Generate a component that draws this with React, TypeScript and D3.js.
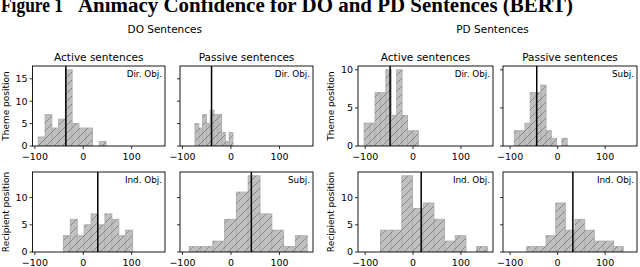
import React, { useEffect, useRef } from 'react';
import * as d3 from 'd3';

// bin counts (10 bins each)
const doActiveTheme = [2, 7, 4, 6, 17, 5, 4, 4, 0, 1];
const doPassiveTheme = [5, 4, 7, 5, 8, 7, 7, 3, 1, 3];
const doActiveRecipient = [3, 6, 3, 5, 7, 5, 7, 6, 3, 4];
const doPassiveRecipient = [1, 1, 2, 6, 11, 14, 7, 4, 1, 3];
const pdActiveTheme = [3, 3, 7, 7, 10, 4, 10, 4, 2, 2];
const pdPassiveTheme = [2, 2, 3, 7, 7, 8, 2, 1, 0, 1];
const pdActiveRecipient = [4, 4, 14, 8, 9, 6, 2, 3, 0, 1];
const pdPassiveRecipient = [1, 1, 3, 9, 4, 6, 4, 2, 2, 1];

// [first bin edge, last bin edge]
const binRanges = {
  doActiveTheme: [-93, 47],
  doPassiveTheme: [-74, 4],
  doActiveRecipient: [-41, 102],
  doPassiveRecipient: [-86, 157],
  pdActiveTheme: [-102, 11],
  pdPassiveTheme: [-91, 20],
  pdActiveRecipient: [-68, 155],
  pdPassiveRecipient: [-65, 138],
};

// position of the vertical line in each panel
const meanLines = [-36, -40, 30, 42, -48, -44, 17, 32];
const roleLabels = ['Dir. Obj.', 'Dir. Obj.', 'Ind. Obj.', 'Subj.', 'Dir. Obj.', 'Subj.', 'Ind. Obj.', 'Ind. Obj.'];

const figTitle = ['Figure 1', 'Animacy Confidence for DO and PD Sentences (BERT)'];
const groupTitles = ['DO Sentences', 'PD Sentences'];
const colTitles = ['Active sentences', 'Passive sentences'];
const rowLabels = ['Theme position', 'Recipient position'];
const xTicks = [-100, 0, 100];
const yTicksByRow = [[[0, 5, 10, 15], [0, 5, 10]], [[0, 5, 10], [0, 5, 10]]]; // [group][row]
const yMaxByRow = [[17, 14], [10, 14]];
const xDomains = [[-105, 169], [-115, 167]];

const App = () => {
  const svgRef = useRef(null);

  useEffect(() => {
    const svg = d3.select(svgRef.current);
    svg.selectAll('*').remove();
    const font = 'DejaVu Sans, sans-serif';

    const cols = [[32.5, 165], [180, 313], [358, 493], [503, 637]];
    const rows = [[66, 146], [172, 252]];

    const defs = svg.append('defs');
    const h = 8;
    const pat = defs.append('pattern')
      .attr('id', 'hatch')
      .attr('patternUnits', 'userSpaceOnUse')
      .attr('width', h).attr('height', h);
    pat.append('path')
      .attr('d', `M0,${h} L${h},0 M${-h / 2},${h / 2} L${h / 2},${-h / 2} M${h / 2},${h * 1.5} L${h * 1.5},${h / 2}`)
      .attr('stroke', '#7a7a7a').attr('stroke-width', 0.8);

    // figure title, cut at the top like the source
    const serif = 'Liberation Serif, Times New Roman, serif';
    svg.append('text').attr('x', 1).attr('y', 12)
      .attr('font-family', serif).attr('font-weight', 'bold').attr('font-size', 20)
      .attr('textLength', 62).attr('lengthAdjust', 'spacingAndGlyphs')
      .text(figTitle[0]);
    svg.append('text').attr('x', 78).attr('y', 12)
      .attr('font-family', serif).attr('font-weight', 'bold').attr('font-size', 20)
      .attr('textLength', 495).attr('lengthAdjust', 'spacingAndGlyphs')
      .text(figTitle[1]);

    const panels = [
      { g: 0, c: 0, r: 0, counts: doActiveTheme, range: binRanges.doActiveTheme },
      { g: 0, c: 1, r: 0, counts: doPassiveTheme, range: binRanges.doPassiveTheme },
      { g: 0, c: 0, r: 1, counts: doActiveRecipient, range: binRanges.doActiveRecipient },
      { g: 0, c: 1, r: 1, counts: doPassiveRecipient, range: binRanges.doPassiveRecipient },
      { g: 1, c: 0, r: 0, counts: pdActiveTheme, range: binRanges.pdActiveTheme },
      { g: 1, c: 1, r: 0, counts: pdPassiveTheme, range: binRanges.pdPassiveTheme },
      { g: 1, c: 0, r: 1, counts: pdActiveRecipient, range: binRanges.pdActiveRecipient },
      { g: 1, c: 1, r: 1, counts: pdPassiveRecipient, range: binRanges.pdPassiveRecipient },
    ];

    groupTitles.forEach((t, g) => {
      const x0 = cols[g * 2][0], x1 = cols[g * 2 + 1][1];
      svg.append('text').attr('x', (x0 + x1) / 2 - (g === 0 ? 8 : 5)).attr('y', 33)
        .attr('text-anchor', 'middle').attr('font-family', font).attr('font-size', 10.5)
        .text(t);
      colTitles.forEach((ct, c) => {
        const [a, b] = cols[g * 2 + c];
        svg.append('text').attr('x', (a + b) / 2).attr('y', 61)
          .attr('text-anchor', 'middle').attr('font-family', font).attr('font-size', 10.5)
          .text(ct);
      });
      rowLabels.forEach((rl, r) => {
        const [t0, t1] = rows[r];
        const lx = g === 0 ? 9 : 334;
        svg.append('text')
          .attr('transform', `translate(${lx},${(t0 + t1) / 2}) rotate(-90)`)
          .attr('text-anchor', 'middle').attr('font-family', font).attr('font-size', 9)
          .text(rl);
      });
    });

    panels.forEach((p, i) => {
      const [left, right] = cols[p.g * 2 + p.c];
      const [top, bottom] = rows[p.r];
      const x = d3.scaleLinear().domain(xDomains[p.g]).range([left, right]);
      const y = d3.scaleLinear().domain([0, yMaxByRow[p.g][p.r] * 1.05]).range([bottom, top]);
      const n = p.counts.length;
      const w = (p.range[1] - p.range[0]) / n;
      const bins = p.counts.map((v, k) => ({ x0: p.range[0] + k * w, x1: p.range[0] + (k + 1) * w, v }))
        .filter((d) => d.v > 0);

      const g = svg.append('g');
      const clipId = `clip${i}`;
      defs.append('clipPath').attr('id', clipId).append('rect')
        .attr('x', left).attr('y', top).attr('width', right - left).attr('height', bottom - top);

      const bars = g.append('g').attr('clip-path', `url(#${clipId})`);
      bars.selectAll('rect.fill').data(bins).join('rect')
        .attr('x', (d) => x(d.x0)).attr('width', (d) => x(d.x1) - x(d.x0))
        .attr('y', (d) => y(d.v)).attr('height', (d) => y(0) - y(d.v))
        .attr('fill', '#c0c0c0').attr('stroke', '#b0b0b0').attr('stroke-width', 1);
      bars.selectAll('rect.hatch').data(bins).join('rect')
        .attr('x', (d) => x(d.x0)).attr('width', (d) => x(d.x1) - x(d.x0))
        .attr('y', (d) => y(d.v)).attr('height', (d) => y(0) - y(d.v))
        .attr('fill', 'url(#hatch)');

      g.append('line')
        .attr('x1', x(meanLines[i])).attr('x2', x(meanLines[i]))
        .attr('y1', top).attr('y2', bottom)
        .attr('stroke', '#000').attr('stroke-width', 1.5);

      g.append('rect').attr('x', left).attr('y', top)
        .attr('width', right - left).attr('height', bottom - top)
        .attr('fill', 'none').attr('stroke', '#000').attr('stroke-width', 0.9);

      g.append('text').attr('x', right - 3).attr('y', top + 11)
        .attr('text-anchor', 'end').attr('font-family', font).attr('font-size', 8.8)
        .text(roleLabels[i]);

      // x ticks
      xTicks.forEach((t) => {
        g.append('line').attr('x1', x(t)).attr('x2', x(t)).attr('y1', bottom).attr('y2', bottom + 3)
          .attr('stroke', '#000').attr('stroke-width', 0.8);
        g.append('text').attr('x', x(t)).attr('y', bottom + 13.5)
          .attr('text-anchor', 'middle').attr('font-family', font).attr('font-size', 9.5)
          .text(t < 0 ? `\u2212${Math.abs(t)}` : `${t}`);
      });
      // y ticks
      yTicksByRow[p.g][p.r].forEach((t) => {
        g.append('line').attr('x1', left - 3).attr('x2', left).attr('y1', y(t)).attr('y2', y(t))
          .attr('stroke', '#000').attr('stroke-width', 0.8);
        if (p.c === 0) {
          g.append('text').attr('x', left - 5).attr('y', y(t)).attr('dy', '0.35em')
            .attr('text-anchor', 'end').attr('font-family', font).attr('font-size', 9.5)
            .text(`${t}`);
        }
      });
    });
  }, []);

  return (
    <svg ref={svgRef} width={640} height={267}
      style={{ position: 'absolute', left: 0, top: 0, background: '#fff' }} />
  );
};

export default App;
